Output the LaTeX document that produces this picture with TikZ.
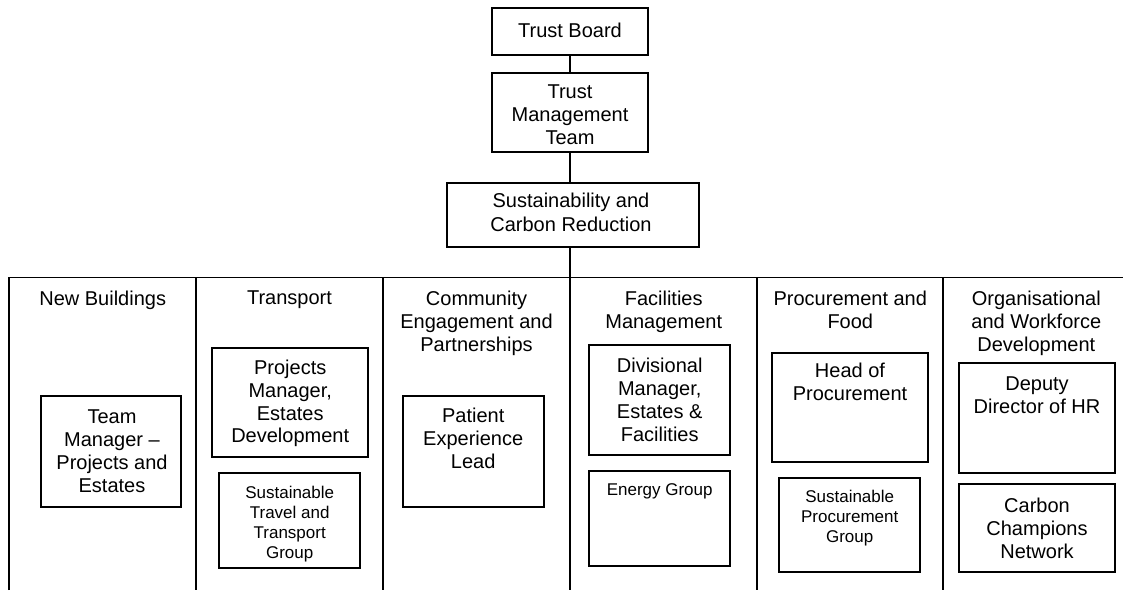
\documentclass[tikz,border=0pt]{standalone}
\usepackage{fontspec}
\setmainfont{Liberation Sans}
\usetikzlibrary{positioning}

\tikzset{
  boxline/.style={draw=black, line width=1.8pt},
  box/.style={boxline, rectangle, inner sep=0pt},
  bigtext/.style={inner sep=0pt, align=center, anchor=north,
                  font=\fontsize{20}{22.8}\selectfont},
  smalltext/.style={inner sep=0pt, align=center, anchor=north,
                    font=\fontsize{17}{20}\selectfont},
  grid/.style={draw=black, line width=1.8pt},
}

% box given by its left, top, right and bottom edges
\newcommand{\orgbox}[5]{%
  \node[box, minimum width={#4-#2}, minimum height={#5-#3}]
    (#1) at ({(#2+#4)/2},{(#3+#5)/2}) {};}

\begin{document}
\begin{tikzpicture}[x=1pt, y=-1pt]
\useasboundingbox (0,0) rectangle (1123,590);

% upper chain of command
\orgbox{tb}{491.7}{8.3}{648.3}{55}
\orgbox{tmt}{491.7}{73.3}{648.3}{151.7}
\orgbox{scr}{446.7}{183.3}{699.3}{246.7}
\node[bigtext] (tbT) at (570,23) {Trust Board};
\node[bigtext] (tmtT) at (570,84.7) {Trust\\Management\\Team};
\node[bigtext, font=\fontsize{20}{24}\selectfont] (scrT) at (571,193) {Sustainability and\\Carbon Reduction};

% table of work streams
\coordinate (tl) at (9.3,277.5);
\coordinate (tr) at (1123,277.5);
\coordinate (d0) at (9.3,590);
\coordinate (t1) at (196,277.5);   \coordinate (d1) at (196,590);
\coordinate (t2) at (383,277.5);   \coordinate (d2) at (383,590);
\coordinate (t3) at (570,277.5);   \coordinate (d3) at (570,590);
\coordinate (t4) at (757.3,277.5); \coordinate (d4) at (757.3,590);
\coordinate (t5) at (942.7,277.5); \coordinate (d5) at (942.7,590);

\draw[grid] (d0) -- (tl) -- (tr);
\draw[grid] (t1) -- (d1);
\draw[grid] (t2) -- (d2);
\draw[grid] (t3) -- (d3);
\draw[grid] (t4) -- (d4);
\draw[grid] (t5) -- (d5);

% connectors
\draw[grid] (tb.south) -- (tmt.north);
\draw[grid] (tmt.south) -- (tmt.south |- scr.north);
\draw[grid] (scr.south -| t3) -- (t3);

% column headings
\node[bigtext] (h1) at (102.7,291) {New Buildings};
\node[bigtext] (h2) at (289.5,291) {Transport};
\node[bigtext] (h3) at (476.5,291) {Community\\Engagement and\\Partnerships};
\node[bigtext] (h4) at (663.7,291) {Facilities\\Management};
\node[bigtext] (h5) at (850.3,291) {Procurement and\\Food};
\node[bigtext] (h6) at (1036.3,291) {Organisational\\and Workforce\\Development};

% roles and groups
\orgbox{tm}{40.7}{396}{181}{506.7}
\node[bigtext] (tmT) at (112,409.7) {Team\\Manager –\\Projects and\\Estates};

\orgbox{pm}{212}{347.7}{368.3}{456.7}
\node[bigtext] (pmT) at (290.2,359.7) {Projects\\Manager,\\Estates\\Development};
\orgbox{stt}{219.3}{473.3}{360}{567.7}
\node[smalltext] (sttT) at (289.7,485.6) {Sustainable\\Travel and\\Transport\\Group};

\orgbox{pe}{402.7}{396}{543.7}{506.7}
\node[bigtext] (peT) at (473.2,408) {Patient\\Experience\\Lead};

\orgbox{dm}{589.3}{345.3}{730}{455.3}
\node[bigtext] (dmT) at (659.7,358) {Divisional\\Manager,\\Estates \&\\Facilities};
\orgbox{eg}{589.3}{471}{730}{565.7}
\node[smalltext] (egT) at (659.7,483.2) {Energy Group};

\orgbox{hp}{772.3}{352.7}{927.7}{462.3}
\node[bigtext] (hpT) at (850,363) {Head of\\Procurement};
\orgbox{spg}{779.3}{477.7}{920}{571.7}
\node[smalltext] (spgT) at (849.7,489.6) {Sustainable\\Procurement\\Group};

\orgbox{dd}{959}{363.3}{1115}{473.3}
\node[bigtext] (ddT) at (1037,376.3) {Deputy\\Director of HR};
\orgbox{cc}{959}{484.3}{1115}{572.3}
\node[bigtext] (ccT) at (1037,498) {Carbon\\Champions\\Network};

\end{tikzpicture}
\end{document}
